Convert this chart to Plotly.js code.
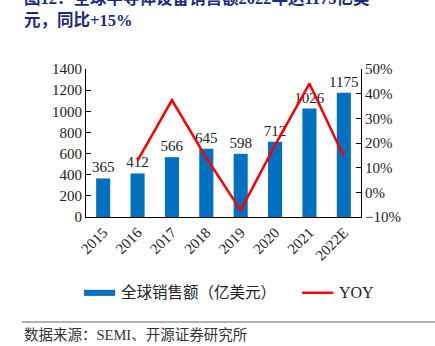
<!DOCTYPE html>
<html><head><meta charset="utf-8">
<script src="https://cdn.plot.ly/plotly-3.0.1.min.js"></script>
<style>html,body{margin:0;padding:0;background:#fff}#c{width:435px;height:346px}</style>
</head><body><div id="c"></div>
<script>
var years = ['2015','2016','2017','2018','2019','2020','2021','2022E'];
var sales = [365, 412, 566, 645, 598, 712, 1026, 1175];
var yoyYears = ['2016','2017','2018','2019','2020','2021','2022E'];
var yoy = [12.9, 37.4, 14.0, -7.3, 19.1, 44.1, 14.5];
var salesName = '全球销售额（亿美元）';
var yoyName = 'YOY';

var serif = '"Liberation Serif", "Times New Roman", "Noto Sans CJK SC", serif';
var cjk = '"Liberation Serif", "Noto Sans CJK SC", sans-serif';

var traces = [
  {type:'bar', x:years, y:sales, name:salesName, marker:{color:'#0070C0'},
   text:sales.map(String), textposition:'outside', cliponaxis:false, constraintext:'none',
   textfont:{family:serif, size:15, color:'#222'}, showlegend:false, hoverinfo:'none'},
  {type:'scatter', mode:'lines', x:yoyYears, y:yoy, yaxis:'y2', name:yoyName,
   line:{color:'#FF0000', width:2.5}, showlegend:false, hoverinfo:'none'}
];

var layout = {
  width:435, height:346,
  margin:{l:86, r:74, t:69, b:129},
  paper_bgcolor:'#fff', plot_bgcolor:'#fff',
  bargap:0.59,
  font:{family:serif, size:15, color:'#222'},
  xaxis:{type:'category', showline:true, linecolor:'#000', linewidth:1,
    ticks:'', tickangle:-45, tickfont:{family:serif, size:15, color:'#222'},
    showgrid:false, zeroline:false},
  yaxis:{range:[0,1400], dtick:200, showline:true, linecolor:'#000', linewidth:1,
    ticks:'inside', ticklen:5, tickcolor:'#000', showgrid:false, zeroline:false,
    tickfont:{family:serif, size:15, color:'#222'}},
  yaxis2:{overlaying:'y', side:'right', range:[-10,50], dtick:10, ticksuffix:'%',
    showline:true, linecolor:'#000', linewidth:1, ticks:'inside', ticklen:5, tickcolor:'#000',
    showgrid:false, zeroline:false, tickfont:{family:serif, size:15, color:'#222'}},
  shapes:[
    {type:'rect', xref:'paper', yref:'paper', x0:-0.007, x1:0.106, y0:-0.533, y1:-0.492,
     fillcolor:'#0070C0', line:{width:0}},
    {type:'line', xref:'paper', yref:'paper', x0:0.786, x1:0.899, y0:-0.512, y1:-0.512,
     line:{color:'#FF0000', width:2.5}},
    {type:'line', xref:'paper', yref:'paper', x0:-0.233, x1:1.3, y0:-0.71, y1:-0.71,
     line:{color:'#999', width:1.5}}
  ],
  annotations:[
    {xref:'paper', yref:'paper', x:0.12, y:-0.512, xanchor:'left', yanchor:'middle',
     text:salesName, showarrow:false, font:{family:cjk, size:15.5, color:'#222'}},
    {xref:'paper', yref:'paper', x:0.912, y:-0.512, xanchor:'left', yanchor:'middle',
     text:yoyName, showarrow:false, font:{family:serif, size:16, color:'#222'}},
    {xref:'paper', yref:'paper', x:-0.233, y:-0.8, xanchor:'left', yanchor:'middle',
     text:'数据来源：SEMI、开源证券研究所', showarrow:false, font:{family:cjk, size:14.5, color:'#333'}},
    {xref:'paper', yref:'paper', x:-0.233, y:1.33, xanchor:'left', yanchor:'middle',
     text:'<b>元，同比+15%</b>', showarrow:false, font:{family:cjk, size:16.5, color:'#1c2a80'}},
    {xref:'paper', yref:'paper', x:-0.233, y:1.48, xanchor:'left', yanchor:'middle',
     text:'<b>图12：全球半导体设备销售额2022年达1175亿美</b>', showarrow:false, font:{family:cjk, size:16.5, color:'#1c2a80'}}
  ]
};
Plotly.newPlot('c', traces, layout, {displayModeBar:false, staticPlot:true});
</script></body></html>
